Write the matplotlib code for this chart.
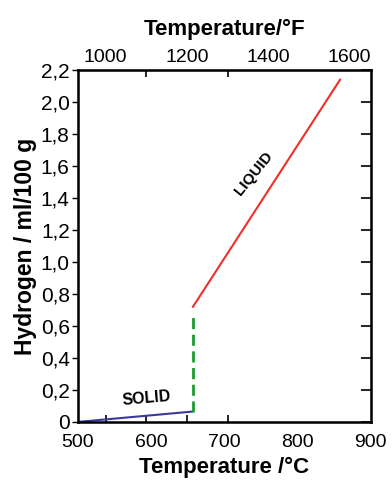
import matplotlib.pyplot as plt
import numpy as np

plt.rcParams['font.family'] = ['Liberation Sans', 'DejaVu Sans']

# curve data (degC, ml/100 g)
solid_t = [500, 657]
solid_h = [0.0, 0.065]
jump_t = [657, 657]
jump_h = [0.065, 0.69]
liquid_t = [657, 858]
liquid_h = [0.72, 2.14]

c_ticks = [500, 600, 700, 800, 900]
f_labels = [1000, 1200, 1400, 1600]
f_marks = [1000, 1100, 1200, 1300]
h_ticks = [0, 0.2, 0.4, 0.6, 0.8, 1.0, 1.2, 1.4, 1.6, 1.8, 2.0, 2.2]


def c2f(c):
    return np.asarray(c) * 9.0 / 5.0 + 32


def f2c(f):
    return (np.asarray(f) - 32) * 5.0 / 9.0


fig = plt.figure(figsize=(3.92, 4.8), dpi=100)
ax = fig.add_axes([0.199, 0.121, 0.747, 0.733])

ax.plot(solid_t, solid_h, color='#3a3a9c', lw=1.5, solid_capstyle='butt')
ax.plot(jump_t, jump_h, color='#1e9a32', lw=2, ls=(0, (4, 2)))
ax.plot(liquid_t, liquid_h, color='#ee3028', lw=1.5)

ax.set_xlim(500, 900)
ax.set_ylim(0, 2.2)

ax.set_xticks(c_ticks)
ax.set_xticks(f2c(f_marks), minor=True)
ax.tick_params(axis='x', which='major', length=0, labelsize=14, pad=9)
ax.tick_params(axis='x', which='minor', direction='in', length=5, width=1.2)

ax.set_yticks(h_ticks)
ax.set_yticklabels(['0' if v == 0 else ('%.1f' % v).replace('.', ',') for v in h_ticks])
ax.tick_params(axis='y', which='major', direction='out', length=4, width=1,
               labelsize=15, pad=2)

# right side ticks pointing in
ay = ax.twinx()
ay.set_ylim(0, 2.2)
ay.set_yticks(h_ticks)
ay.tick_params(axis='y', direction='in', length=7, width=1.2, labelright=False)

top = ax.secondary_xaxis('top', functions=(c2f, f2c))
top.set_xticks(f_labels)
top.set_xticks(f_marks, minor=True)
top.tick_params(axis='x', which='major', length=0, labelsize=14, pad=3)
top.tick_params(axis='x', which='minor', direction='in', length=5, width=1.2)
top.set_xlabel('Temperature/°F', fontsize=16, fontweight='bold', labelpad=10)

for sp in ax.spines.values():
    sp.set_linewidth(1.8)

ax.set_xlabel('Temperature /°C', fontsize=16, fontweight='bold', labelpad=4)
ax.set_ylabel('Hydrogen / ml/100 g', fontsize=16.5, fontweight='bold', labelpad=3)

ax.text(594, 0.15, 'SOLID', fontsize=11.5, fontweight='bold', rotation=5,
        ha='center', va='center')
ax.text(740, 1.55, 'LIQUID', fontsize=11, fontweight='bold', rotation=51,
        ha='center', va='center')

fig.savefig('out.png', dpi=100)
